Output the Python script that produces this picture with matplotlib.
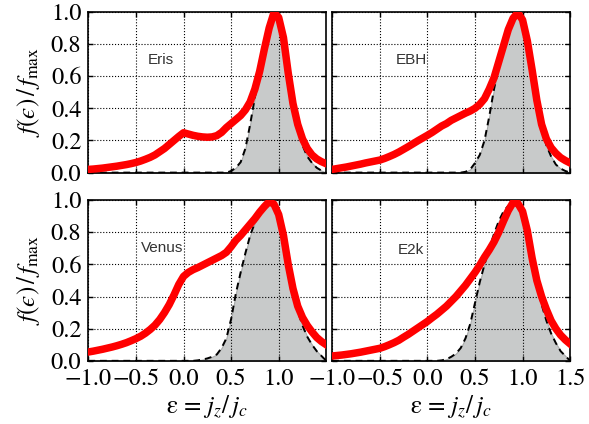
import matplotlib.pyplot as plt

plt.rcParams['font.family'] = ['STIXGeneral', 'DejaVu Sans']
plt.rcParams['mathtext.fontset'] = 'stix'

# circularity grid, eps = jz / jc
eps = [-1.00, -0.95, -0.90, -0.85, -0.80, -0.75, -0.70, -0.65, -0.60, -0.55,
       -0.50, -0.45, -0.40, -0.35, -0.30, -0.25, -0.20, -0.15, -0.10, -0.05,
       0.00, 0.05, 0.10, 0.15, 0.20, 0.25, 0.30, 0.35, 0.40, 0.45,
       0.50, 0.55, 0.60, 0.65, 0.70, 0.75, 0.80, 0.85, 0.90, 0.95,
       1.00, 1.05, 1.10, 1.15, 1.20, 1.25, 1.30, 1.35, 1.40, 1.45, 1.50]

names = ['Eris', 'EBH', 'Venus', 'E2k']

# full distributions (red)
eris_all = [0.020, 0.022, 0.025, 0.028, 0.032, 0.036, 0.040, 0.045, 0.050, 0.056,
            0.063, 0.072, 0.083, 0.095, 0.110, 0.130, 0.150, 0.175, 0.200, 0.225,
            0.248, 0.240, 0.232, 0.226, 0.222, 0.220, 0.222, 0.230, 0.250, 0.280,
            0.305, 0.330, 0.355, 0.390, 0.440, 0.520, 0.630, 0.770, 0.900, 0.995,
            0.965, 0.840, 0.620, 0.430, 0.300, 0.210, 0.150, 0.110, 0.085, 0.068, 0.055]
ebh_all = [0.020, 0.025, 0.030, 0.035, 0.041, 0.047, 0.053, 0.060, 0.066, 0.072,
           0.078, 0.088, 0.100, 0.113, 0.128, 0.145, 0.162, 0.180, 0.198, 0.215,
           0.232, 0.250, 0.270, 0.290, 0.305, 0.325, 0.340, 0.355, 0.370, 0.383,
           0.400, 0.425, 0.460, 0.520, 0.590, 0.690, 0.790, 0.890, 0.960, 0.995,
           0.950, 0.820, 0.640, 0.450, 0.300, 0.210, 0.155, 0.120, 0.093, 0.075, 0.060]
venus_all = [0.055, 0.060, 0.066, 0.072, 0.079, 0.086, 0.094, 0.103, 0.113, 0.125,
             0.138, 0.153, 0.172, 0.195, 0.222, 0.257, 0.300, 0.350, 0.410, 0.475,
             0.525, 0.550, 0.567, 0.580, 0.595, 0.610, 0.625, 0.640, 0.655, 0.675,
             0.710, 0.750, 0.780, 0.815, 0.850, 0.885, 0.925, 0.960, 0.990, 0.975,
             0.910, 0.780, 0.600, 0.450, 0.340, 0.270, 0.220, 0.180, 0.145, 0.120, 0.100]
e2k_all = [0.030, 0.033, 0.036, 0.040, 0.044, 0.049, 0.054, 0.060, 0.066, 0.072,
           0.078, 0.088, 0.100, 0.113, 0.128, 0.147, 0.165, 0.185, 0.205, 0.225,
           0.245, 0.268, 0.290, 0.315, 0.340, 0.370, 0.400, 0.435, 0.470, 0.510,
           0.550, 0.595, 0.645, 0.690, 0.740, 0.800, 0.870, 0.935, 0.985, 0.980,
           0.930, 0.810, 0.640, 0.500, 0.400, 0.320, 0.250, 0.200, 0.160, 0.130, 0.105]

# disc component (grey fill, dashed fit)
eris_disc = [0.0] * 30 + [
    0.010, 0.030, 0.065, 0.150, 0.300, 0.470, 0.630, 0.780, 0.910, 0.980,
    0.950, 0.820, 0.600, 0.410, 0.270, 0.170, 0.100, 0.060, 0.030, 0.012, 0.0]
ebh_disc = [0.0] * 28 + [
    0.005, 0.020, 0.060, 0.110, 0.200, 0.350, 0.520, 0.660, 0.780, 0.880,
    0.950, 0.985, 0.950, 0.820, 0.630, 0.440, 0.280, 0.170, 0.100, 0.050,
    0.025, 0.010, 0.0]
venus_disc = [0.0] * 23 + [
    0.003, 0.008, 0.015, 0.025, 0.040, 0.080, 0.140, 0.260, 0.420, 0.550,
    0.670, 0.780, 0.860, 0.920, 0.960, 0.975, 0.960, 0.890, 0.760, 0.580,
    0.430, 0.310, 0.220, 0.150, 0.100, 0.060, 0.030, 0.0]
e2k_disc = [0.0] * 23 + [
    0.003, 0.010, 0.025, 0.045, 0.080, 0.140, 0.230, 0.360, 0.490, 0.600,
    0.700, 0.790, 0.870, 0.930, 0.965, 0.975, 0.960, 0.900, 0.780, 0.620,
    0.470, 0.350, 0.250, 0.170, 0.110, 0.060, 0.030, 0.0]

label_pos = [(-0.24, 0.70), (-0.17, 0.70), (-0.23, 0.70), (-0.17, 0.69)]


def plot_panels():
    fig, axes = plt.subplots(2, 2, figsize=(5.89, 4.24), dpi=100)
    fig.subplots_adjust(left=0.150, right=0.968, top=0.972, bottom=0.149,
                        wspace=0.025, hspace=0.171)

    full = [eris_all, ebh_all, venus_all, e2k_all]
    disc = [eris_disc, ebh_disc, venus_disc, e2k_disc]

    for i, ax in enumerate(axes.flat):
        ax.fill_between(eps, 0, disc[i], facecolor='#c8caca', edgecolor='#a8aaaa',
                        lw=0.8, zorder=1)
        ax.plot(eps, disc[i], color='k', ls='--', dashes=(3.5, 2.5), lw=1.4, zorder=2)
        ax.plot(eps, full[i], color='#ff0000', lw=5.4, zorder=3)
        ax.text(label_pos[i][0], label_pos[i][1], names[i], ha='center', va='center',
                fontsize=11, color='#333333', family='Liberation Sans')

        ax.set_xlim(-1.0, 1.5)
        ax.set_ylim(0.0, 1.0)
        ax.set_yticks([0.0, 0.2, 0.4, 0.6, 0.8, 1.0])
        if i % 2 == 0:
            ax.set_xticks([-1.0, -0.5, 0.0, 0.5, 1.0])
        else:
            ax.set_xticks([-1.0, -0.5, 0.0, 0.5, 1.0, 1.5])
        ax.grid(True, ls=':', color='k', lw=0.8)
        ax.set_axisbelow('line')
        ax.tick_params(direction='in', top=True, right=True, length=3.5, width=1,
                       labelsize=17.5, pad=5)
        ax.tick_params(axis='x', pad=5.5)
        for sp in ax.spines.values():
            sp.set_linewidth(1.2)

        if i < 2:
            ax.tick_params(labelbottom=False)
        else:
            ax.set_xlabel(r'ε = $j_z/\,j_c$', fontsize=18, labelpad=2)
        if i % 2 == 1:
            ax.tick_params(labelleft=False)
        else:
            ax.set_ylabel('$f(\u03f5)\\,/\\,f_{\\rm max}$', fontsize=18, labelpad=6)

    fig.savefig('out.png', dpi=100)


plot_panels()
